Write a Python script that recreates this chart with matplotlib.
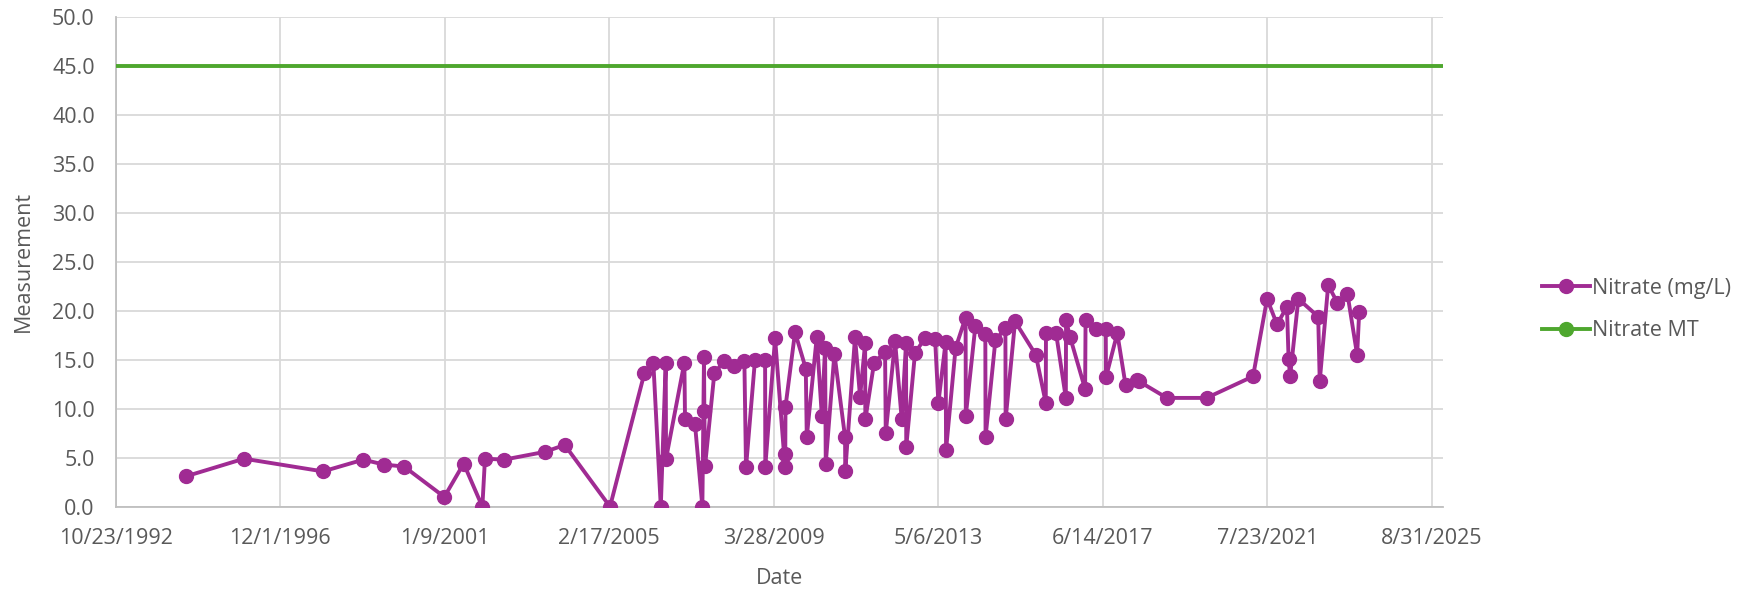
import numpy as np
import pandas as pd
from matplotlib import pyplot as plt
from matplotlib.lines import Line2D
import matplotlib.dates as mdates

plt.rcParams['font.family'] = ['Open Sans', 'DejaVu Sans']

# sample dates as Excel serial day numbers
serial_days = [34541, 35070, 35790, 36158, 36344, 36529, 36896, 37073, 37243, 37267,
               37441, 37815, 37994, 38407, 38720, 38802, 38870, 38915, 38918, 39085,
               39091, 39182, 39249, 39264, 39267, 39274, 39358, 39450, 39541, 39632,
               39647, 39729, 39821, 39823, 39912, 40003, 40005, 40007, 40094, 40192,
               40201, 40292, 40338, 40368, 40374, 40453, 40550, 40552, 40641, 40687,
               40733, 40735, 40815, 40915, 40921, 41006, 41067, 41106, 41108, 41188,
               41280, 41371, 41401, 41467, 41471, 41558, 41649, 41651, 41738, 41829,
               41831, 41921, 42012, 42014, 42100, 42289, 42380, 42382, 42474, 42563,
               42565, 42602, 42739, 42743, 42834, 42927, 42929, 43032, 43108, 43210,
               43229, 43484, 43847, 44270, 44398, 44489, 44579, 44594, 44608, 44683,
               44864, 44878, 44955, 45040, 45131, 45219, 45238]
nitrate = [3.1, 4.9, 3.6, 4.8, 4.3, 4.1, 1.0, 4.4, 0.0, 4.9,
           4.8, 5.6, 6.3, 0.0, 13.6, 14.7, 0.0, 14.7, 4.9, 14.7,
           8.9, 8.4, 0.0, 15.3, 9.8, 4.2, 13.6, 14.9, 14.4, 14.9,
           4.0, 15.0, 15.0, 4.1, 17.2, 4.0, 5.4, 10.2, 17.8, 14.1,
           7.1, 17.3, 9.3, 16.2, 4.4, 15.6, 7.1, 3.6, 17.3, 11.2,
           16.7, 8.9, 14.7, 15.8, 7.5, 16.9, 8.9, 16.7, 6.1, 15.7,
           17.2, 17.1, 10.6, 16.8, 5.8, 16.2, 19.3, 9.3, 18.4, 17.6,
           7.1, 17.0, 18.2, 8.9, 18.9, 15.5, 10.6, 17.7, 17.7, 11.1,
           19.0, 17.3, 12.0, 19.1, 18.1, 18.1, 13.2, 17.7, 12.4, 12.9,
           12.8, 11.1, 11.1, 13.3, 21.2, 18.6, 20.4, 15.1, 13.3, 21.2,
           19.4, 12.8, 22.6, 20.8, 21.7, 15.5, 19.9]
nitrate_mt = 45.0

x_start = '1992-10-23'
x_end_serial = 46000
tick_step_days = 1500
n_ticks = 9

dates = pd.to_datetime(serial_days, unit='D', origin='1899-12-30')
x_end = pd.to_datetime(x_end_serial, unit='D', origin='1899-12-30')
ticks = pd.date_range(start=x_start, periods=n_ticks, freq=f'{tick_step_days}D')

purple = '#A02B93'
green = '#4EA72E'
txt = '#595959'
fs = 15.5

fig = plt.figure(figsize=(17.61, 5.92), dpi=100)
ax = fig.add_axes([0.0657, 0.1441, 0.7536, 0.8277])

ax.plot([pd.Timestamp(x_start), x_end], [nitrate_mt, nitrate_mt], color=green,
        lw=2.8, solid_capstyle='butt', zorder=3)
ax.plot(dates, nitrate, color=purple, lw=2.8, marker='o', ms=10, zorder=4)

ax.set_xlim(pd.Timestamp(x_start), x_end)
ax.set_ylim(0, 50)
ax.set_yticks(np.arange(0, 50.1, 5))
ax.yaxis.set_major_formatter(plt.FuncFormatter(lambda v, p: f'{v:.1f}'))
ax.set_xticks(ticks)
ax.xaxis.set_major_formatter(plt.FuncFormatter(
    lambda v, p: (lambda d: f'{d.month}/{d.day}/{d.year}')(mdates.num2date(v))))

ax.grid(True, color='#d9d9d9', lw=1.3)
ax.set_axisbelow(True)
for s in ['top', 'right']:
    ax.spines[s].set_visible(False)
for s in ['left', 'bottom']:
    ax.spines[s].set_color('#bfbfbf')
    ax.spines[s].set_linewidth(1.3)
ax.tick_params(length=0, labelsize=fs, labelcolor=txt)
ax.tick_params(axis='x', pad=15)
ax.tick_params(axis='y', pad=15)

ax.set_xlabel('Date', fontsize=fs, color=txt, labelpad=14)
ax.set_ylabel('Measurement', fontsize=fs, color=txt, labelpad=13)

handles = [Line2D([], [], color=purple, lw=2.8, marker='o', ms=10),
           Line2D([], [], color=green, lw=2.8, marker='o', ms=10)]
leg = ax.legend(handles, ['Nitrate (mg/L)', 'Nitrate MT'], loc='upper left',
                bbox_to_anchor=(0.871, 0.545), bbox_transform=fig.transFigure,
                frameon=False, fontsize=fs, handlelength=2.2, handletextpad=0.1,
                labelspacing=1.0, borderaxespad=0)
for t in leg.get_texts():
    t.set_color(txt)

fig.savefig('out.png', dpi=100)
